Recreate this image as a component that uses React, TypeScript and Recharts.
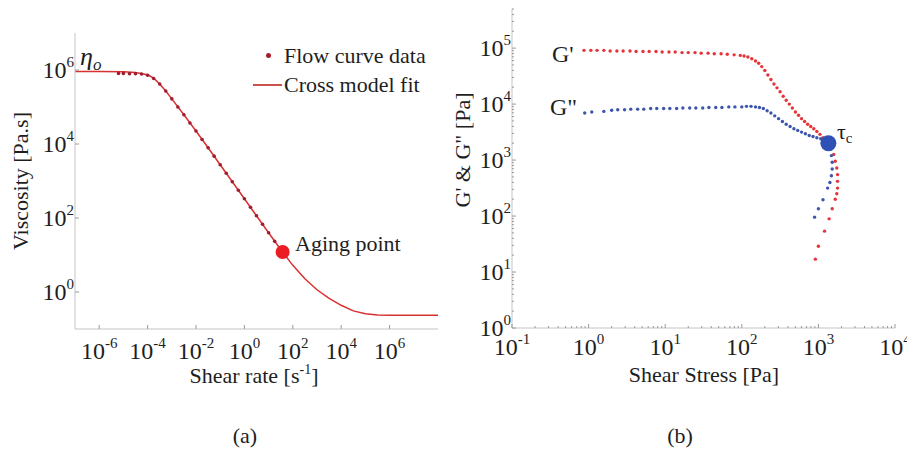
import { ComposedChart, ScatterChart, Line, Scatter, XAxis, YAxis, Legend } from "recharts";

const FONT = '"Liberation Serif", "Times New Roman", serif';
const INK = "#1e1e1e";
const AXIS = "#c4c4c4";

// (a) viscosity vs shear rate
const fitRate = [1e-7, 1e-6, 1e-5, 3.16e-5, 1e-4, 1.78e-4, 3.16e-4, 5.62e-4, 1e-3, 3.16e-3, 0.01, 0.0316, 0.1, 0.316, 1, 3.16, 10, 31.6, 100, 316, 1000, 3162, 1e4, 3.16e4, 1e5, 3.16e5, 1e6, 1e7, 1e8];
const fitVisc = [9.1e5, 9.1e5, 9.0e5, 8.5e5, 7.4e5, 6.0e5, 4.2e5, 2.7e5, 1.66e5, 6.2e4, 2.24e4, 7.9e3, 2.75e3, 955, 331, 115, 39.8, 14.1, 5.25, 2.29, 1.15, 0.676, 0.437, 0.309, 0.257, 0.24, 0.234, 0.234, 0.234];

const flowRate = [6.3e-6, 1e-5, 1.78e-5, 3.16e-5, 5.62e-5, 1e-4, 1.78e-4, 3.16e-4, 5.62e-4, 1e-3, 1.78e-3, 3.16e-3, 5.62e-3, 0.01, 0.0178, 0.0316, 0.0562, 0.1, 0.178, 0.316, 0.562, 1, 1.78, 3.16, 5.62, 10, 17.8];
const flowVisc = [8.1e5, 8.1e5, 7.9e5, 7.9e5, 7.8e5, 7.2e5, 5.9e5, 4.2e5, 2.7e5, 1.66e5, 1.0e5, 6.2e4, 3.7e4, 2.24e4, 1.32e4, 7.9e3, 4.7e3, 2.75e3, 1.62e3, 955, 562, 331, 195, 115, 67.6, 39.8, 23.4];

const agingRate = [38];
const agingVisc = [12];

const rateTicks = [1e-6, 1e-4, 1e-2, 1, 1e2, 1e4, 1e6];
const viscTicks = [1, 1e2, 1e4, 1e6];

// (b) G' and G'' vs shear stress
const gpStress = [0.87, 1.07, 1.29, 1.58, 1.91, 2.34, 2.82, 3.47, 4.17, 5.13, 6.17, 7.59, 9.12, 11.2, 13.5, 16.6, 20, 24.5, 29.5, 36.3, 43.7, 53.7, 64.6, 79.4, 95.5, 107, 120, 135, 151, 166, 182, 200, 219, 240, 263, 288, 316, 347, 380, 417, 457, 501, 550, 603, 661, 724, 794, 871, 955, 1047, 1148, 1259, 1479, 1585, 1660, 1738, 1778, 1778, 1778, 1738, 1660, 1514, 1380, 1202, 1000, 912];
const gpModulus = [9.12e4, 9.12e4, 9.12e4, 9.12e4, 8.91e4, 8.91e4, 8.91e4, 8.91e4, 8.71e4, 8.71e4, 8.71e4, 8.71e4, 8.51e4, 8.51e4, 8.51e4, 8.32e4, 8.32e4, 8.32e4, 8.13e4, 8.13e4, 7.94e4, 7.94e4, 7.76e4, 7.59e4, 7.41e4, 7.24e4, 6.92e4, 6.46e4, 5.89e4, 5.37e4, 4.68e4, 3.98e4, 3.31e4, 2.75e4, 2.29e4, 1.95e4, 1.66e4, 1.38e4, 1.17e4, 1.0e4, 8510, 7240, 6310, 5500, 4900, 4370, 3980, 3630, 3240, 2880, 2510, 2240, 1660, 1260, 955, 724, 550, 417, 316, 251, 200, 135, 89.1, 53.7, 28.8, 17];

const gppStress = [0.89, 1.1, 1.58, 2.0, 2.4, 2.95, 3.55, 4.37, 5.25, 6.46, 7.76, 9.55, 11.5, 14.1, 17, 20.9, 25.1, 30.9, 37.2, 45.7, 55, 67.6, 81.3, 100, 115, 132, 151, 170, 191, 214, 240, 269, 302, 339, 380, 427, 479, 537, 603, 676, 759, 851, 955, 1072, 1202, 1445, 1479, 1514, 1514, 1479, 1413, 1318, 1148, 1000, 891];
const gppModulus = [6920, 7240, 7410, 7760, 7940, 7940, 8130, 8130, 8130, 8320, 8320, 8320, 8320, 8320, 8510, 8510, 8510, 8510, 8710, 8710, 8710, 8910, 8910, 8910, 9120, 9120, 8910, 8710, 8320, 7590, 6920, 6170, 5500, 4900, 4370, 3980, 3630, 3390, 3160, 2950, 2750, 2630, 2510, 2400, 2240, 1585, 1202, 912, 692, 525, 398, 316, 195, 135, 95.5];

const crossStress = [1349];
const crossModulus = [2000];

const stressDecades = [0.1, 1, 10, 100, 1000];
const modulusDecades = [1, 10, 100, 1000, 1e4, 1e5];
const minorSteps = [2, 3, 4, 5, 6, 7, 8, 9];

const pairs = (xs: number[], ys: number[]) => xs.map((x, i) => ({ x, y: ys[i] }));

const stressTicks = [...stressDecades.flatMap((d) => [d, ...minorSteps.map((m) => d * m)]), 1e4];
const modulusTicks = [...modulusDecades.flatMap((d) => [d, ...minorSteps.map((m) => d * m)])].filter((v) => v <= 5e5);

function powTick(side: "bottom" | "left", labelled: number[], dy: number) {
  return (props: any) => {
    const { x, y, payload } = props;
    const lg = Math.log10(payload.value);
    const exp = Math.round(lg);
    const major = Math.abs(lg - exp) < 1e-6;
    const len = major ? 4 : 2;
    const show = major && labelled.includes(exp);
    const label = show ? (
      <text
        x={side === "bottom" ? x : x - 1}
        y={side === "bottom" ? y + dy : y + dy}
        textAnchor={side === "bottom" ? "middle" : "end"}
        fontFamily={FONT}
        fontSize={24}
        fill={INK}
      >
        <tspan>10</tspan>
        <tspan dy={-11} fontSize={15}>{exp}</tspan>
      </text>
    ) : null;
    return (
      <g>
        {side === "bottom" ? (
          <line x1={x} y1={y} x2={x} y2={y - len} stroke="#9a9a9a" />
        ) : (
          <line x1={x} y1={y} x2={x + len} y2={y} stroke="#9a9a9a" />
        )}
        {label}
      </g>
    );
  };
}

const dot = (color: string, r: number) => (p: any) => <circle cx={p.cx} cy={p.cy} r={r} fill={color} />;

const legendBox = () => (
  <div style={{ fontFamily: FONT, fontSize: 22, color: INK, lineHeight: "29px" }}>
    <div style={{ display: "flex", alignItems: "center" }}>
      <span style={{ width: 31, display: "flex", justifyContent: "center" }}>
        <span style={{ width: 5, height: 5, borderRadius: 3, background: "#a41c2e" }} />
      </span>
      Flow curve data
    </div>
    <div style={{ display: "flex", alignItems: "center" }}>
      <span style={{ width: 31, display: "flex", alignItems: "center" }}>
        <span style={{ width: 29, height: 2, background: "#c9534a" }} />
      </span>
      Cross model fit
    </div>
  </div>
);

export default function App() {
  return (
    <div style={{ position: "absolute", left: 0, top: 0, width: 907, height: 449, background: "#fff", overflow: "hidden" }}>
      {/* (a) flow curve */}
      <div style={{ position: "absolute", left: 0, top: 0 }}>
        <ComposedChart width={450} height={449} margin={{ top: 33, right: 12, bottom: 90, left: 15 }}>
          <XAxis
            type="number"
            dataKey="x"
            scale="log"
            domain={[1e-7, 1e8]}
            ticks={rateTicks}
            interval={0}
            height={30}
            tickSize={0}
            tickMargin={0}
            stroke={AXIS}
            tick={powTick("bottom", [-6, -4, -2, 0, 2, 4, 6], 30)}
          />
          <YAxis
            type="number"
            dataKey="y"
            scale="log"
            domain={[0.1, 1e7]}
            ticks={viscTicks}
            interval={0}
            width={60}
            tickSize={0}
            tickMargin={0}
            stroke={AXIS}
            tick={powTick("left", [0, 2, 4, 6], 8)}
          />
          <Legend layout="horizontal" verticalAlign="middle" align="center" content={legendBox} wrapperStyle={{ left: 253, top: 41, width: 200 }} />
          <Line data={pairs(fitRate, fitVisc)} dataKey="y" stroke="#d8302e" strokeWidth={1.5} dot={false} isAnimationActive={false} />
          <Scatter data={pairs(flowRate, flowVisc)} dataKey="y" shape={dot("#9e1d30", 1.8)} isAnimationActive={false} />
          <Scatter data={pairs(agingRate, agingVisc)} dataKey="y" shape={dot("#ec1c24", 7)} isAnimationActive={false} />
        </ComposedChart>
      </div>

      {/* (b) amplitude sweep */}
      <div style={{ position: "absolute", left: 450, top: 0 }}>
        <ScatterChart width={457} height={449} margin={{ top: 9, right: 12, bottom: 91, left: 12 }}>
          <XAxis
            type="number"
            dataKey="x"
            scale="log"
            domain={[0.1, 1e4]}
            ticks={stressTicks}
            interval={0}
            height={30}
            tickSize={0}
            tickMargin={0}
            stroke={AXIS}
            tick={powTick("bottom", [-1, 0, 1, 2, 3, 4], 27)}
          />
          <YAxis
            type="number"
            dataKey="y"
            scale="log"
            domain={[1, 5e5]}
            ticks={modulusTicks}
            interval={0}
            width={50}
            tickSize={0}
            tickMargin={0}
            stroke={AXIS}
            tick={powTick("left", [0, 1, 2, 3, 4, 5], 8)}
          />
          <Scatter data={pairs(gpStress, gpModulus)} shape={dot("#e5343a", 1.7)} isAnimationActive={false} />
          <Scatter data={pairs(gppStress, gppModulus)} shape={dot("#3d56ad", 1.7)} isAnimationActive={false} />
          <Scatter data={pairs(crossStress, crossModulus)} shape={dot("#2f50b5", 8)} isAnimationActive={false} />
        </ScatterChart>
      </div>

      {/* annotations and axis titles */}
      <svg width={907} height={449} style={{ position: "absolute", left: 0, top: 0, pointerEvents: "none" }} fontFamily={FONT} fill={INK}>
        <text x={80} y={65} fontSize={26} fontStyle="italic">
          η<tspan fontSize={17} dy={5}>o</tspan>
        </text>
        <text x={295} y={251} fontSize={22}>Aging point</text>
        <text x={28} y={181} fontSize={22} textAnchor="middle" transform="rotate(-90 28 181)">Viscosity [Pa.s]</text>
        <text x={254} y={383} fontSize={22} textAnchor="middle">
          Shear rate [s<tspan dy={-9} fontSize={14}>-1</tspan><tspan dy={9}>]</tspan>
        </text>
        <text x={245} y={443} fontSize={22} textAnchor="middle">(a)</text>

        <text x={552} y={62} fontSize={24}>G'</text>
        <text x={550} y={115} fontSize={24}>G"</text>
        <text x={837} y={139} fontSize={22}>
          τ<tspan fontSize={15} dy={4}>c</tspan>
        </text>
        <text x={470} y={150} fontSize={22} textAnchor="middle" transform="rotate(-90 470 150)">G' &amp; G" [Pa]</text>
        <text x={704} y={382} fontSize={22} textAnchor="middle">Shear Stress [Pa]</text>
        <text x={680} y={443} fontSize={22} textAnchor="middle">(b)</text>
      </svg>
    </div>
  );
}
